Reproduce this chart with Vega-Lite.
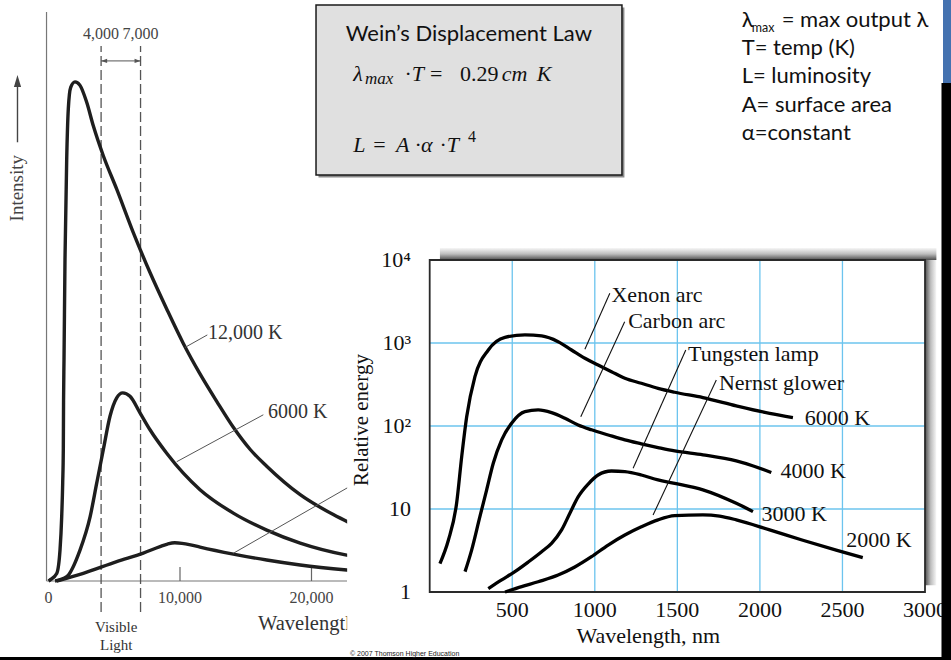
{
  "$schema": "https://vega.github.io/schema/vega-lite/v6.json",
  "width": 951,
  "height": 660,
  "autosize": {"type": "none"},
  "padding": 0,
  "background": "#ffffff",
  "config": {
    "view": {"stroke": null},
    "text": {"font": "Liberation Serif"}
  },
  "datasets": {
    "planck": [
      {"temp": "12,000 K", "wl": 0, "intensity": 0},
      {"temp": "12,000 K", "wl": 114, "intensity": 0.2},
      {"temp": "12,000 K", "wl": 624, "intensity": 1.5},
      {"temp": "12,000 K", "wl": 875, "intensity": 6.2},
      {"temp": "12,000 K", "wl": 1004, "intensity": 12.9},
      {"temp": "12,000 K", "wl": 1080, "intensity": 19.7},
      {"temp": "12,000 K", "wl": 1126, "intensity": 26.3},
      {"temp": "12,000 K", "wl": 1145, "intensity": 36},
      {"temp": "12,000 K", "wl": 1180, "intensity": 44.4},
      {"temp": "12,000 K", "wl": 1255, "intensity": 64.5},
      {"temp": "12,000 K", "wl": 1384, "intensity": 84.5},
      {"temp": "12,000 K", "wl": 1506, "intensity": 94.6},
      {"temp": "12,000 K", "wl": 1688, "intensity": 98.9},
      {"temp": "12,000 K", "wl": 2015, "intensity": 100},
      {"temp": "12,000 K", "wl": 2396, "intensity": 99.3},
      {"temp": "12,000 K", "wl": 2905, "intensity": 95.9},
      {"temp": "12,000 K", "wl": 3407, "intensity": 91.2},
      {"temp": "12,000 K", "wl": 4168, "intensity": 85.2},
      {"temp": "12,000 K", "wl": 5187, "intensity": 78.5},
      {"temp": "12,000 K", "wl": 6449, "intensity": 69.8},
      {"temp": "12,000 K", "wl": 7719, "intensity": 61.8},
      {"temp": "12,000 K", "wl": 8989, "intensity": 54.5},
      {"temp": "12,000 K", "wl": 10252, "intensity": 47.6},
      {"temp": "12,000 K", "wl": 11522, "intensity": 41.5},
      {"temp": "12,000 K", "wl": 12792, "intensity": 36},
      {"temp": "12,000 K", "wl": 14055, "intensity": 30.8},
      {"temp": "12,000 K", "wl": 15324, "intensity": 26.4},
      {"temp": "12,000 K", "wl": 16594, "intensity": 23},
      {"temp": "12,000 K", "wl": 19139, "intensity": 17.3},
      {"temp": "12,000 K", "wl": 21659, "intensity": 13.3},
      {"temp": "12,000 K", "wl": 22930, "intensity": 11.6},
      {"temp": "6000 K", "wl": 494, "intensity": 0},
      {"temp": "6000 K", "wl": 1384, "intensity": 0.86},
      {"temp": "6000 K", "wl": 2396, "intensity": 6.2},
      {"temp": "6000 K", "wl": 3167, "intensity": 12.9},
      {"temp": "6000 K", "wl": 3666, "intensity": 19.6},
      {"temp": "6000 K", "wl": 4168, "intensity": 26.3},
      {"temp": "6000 K", "wl": 4677, "intensity": 33},
      {"temp": "6000 K", "wl": 5187, "intensity": 36.7},
      {"temp": "6000 K", "wl": 5643, "intensity": 37.7},
      {"temp": "6000 K", "wl": 6198, "intensity": 37},
      {"temp": "6000 K", "wl": 6958, "intensity": 33.7},
      {"temp": "6000 K", "wl": 7719, "intensity": 30.3},
      {"temp": "6000 K", "wl": 8989, "intensity": 25.6},
      {"temp": "6000 K", "wl": 10252, "intensity": 21.6},
      {"temp": "6000 K", "wl": 11522, "intensity": 18.3},
      {"temp": "6000 K", "wl": 14055, "intensity": 13.6},
      {"temp": "6000 K", "wl": 16594, "intensity": 10.2},
      {"temp": "6000 K", "wl": 19139, "intensity": 7.6},
      {"temp": "6000 K", "wl": 22678, "intensity": 5.2},
      {"temp": "6000 K", "wl": 23100, "intensity": 5},
      {"temp": "3000 K", "wl": 624, "intensity": 0},
      {"temp": "3000 K", "wl": 2647, "intensity": 1.55},
      {"temp": "3000 K", "wl": 5187, "intensity": 3.9},
      {"temp": "3000 K", "wl": 7210, "intensity": 5.6},
      {"temp": "3000 K", "wl": 8480, "intensity": 6.9},
      {"temp": "3000 K", "wl": 9050, "intensity": 7.4},
      {"temp": "3000 K", "wl": 9600, "intensity": 7.65},
      {"temp": "3000 K", "wl": 10150, "intensity": 7.55},
      {"temp": "3000 K", "wl": 10800, "intensity": 7.25},
      {"temp": "3000 K", "wl": 11522, "intensity": 6.8},
      {"temp": "3000 K", "wl": 14055, "intensity": 5.4},
      {"temp": "3000 K", "wl": 16594, "intensity": 4.2},
      {"temp": "3000 K", "wl": 19139, "intensity": 3.2},
      {"temp": "3000 K", "wl": 22678, "intensity": 2.2},
      {"temp": "3000 K", "wl": 23100, "intensity": 2.1}
    ],
    "visible": [
      {"wl": 4000, "label": "4,000"},
      {"wl": 7000, "label": "7,000"}
    ],
    "wlTicks": [
      {"wl": 0, "label": "0"},
      {"wl": 10000, "label": "10,000"},
      {"wl": 20000, "label": "20,000"}
    ],
    "planckLeaders": [
      {"temp": "12,000 K", "wl1": 10381, "i1": 46.8, "wl2": 12077, "i2": 49.3},
      {"temp": "6000 K", "wl1": 9750, "i1": 23.9, "wl2": 16336, "i2": 33.3},
      {"temp": "3000 K", "wl1": 14054, "i1": 5.55, "wl2": 23080, "i2": 19.2}
    ],
    "planckLabels": [
      {"text": "12,000 K", "wl": 12130, "intensity": 48.5},
      {"text": "6000 K", "wl": 16693, "intensity": 32.7}
    ],
    "sources": [
      {"source": "Xenon arc", "nm": 62, "energy": 2.2},
      {"source": "Xenon arc", "nm": 113, "energy": 4.2},
      {"source": "Xenon arc", "nm": 163, "energy": 11.7},
      {"source": "Xenon arc", "nm": 194, "energy": 43},
      {"source": "Xenon arc", "nm": 224, "energy": 129},
      {"source": "Xenon arc", "nm": 274, "energy": 393},
      {"source": "Xenon arc", "nm": 355, "energy": 824},
      {"source": "Xenon arc", "nm": 456, "energy": 1170},
      {"source": "Xenon arc", "nm": 577, "energy": 1250},
      {"source": "Xenon arc", "nm": 678, "energy": 1215},
      {"source": "Xenon arc", "nm": 778, "energy": 1037},
      {"source": "Xenon arc", "nm": 859, "energy": 824},
      {"source": "Xenon arc", "nm": 940, "energy": 654},
      {"source": "Xenon arc", "nm": 1020, "energy": 543},
      {"source": "Xenon arc", "nm": 1101, "energy": 451},
      {"source": "Xenon arc", "nm": 1182, "energy": 376},
      {"source": "Xenon arc", "nm": 1282, "energy": 327},
      {"source": "Xenon arc", "nm": 1383, "energy": 284},
      {"source": "Xenon arc", "nm": 1484, "energy": 255},
      {"source": "Xenon arc", "nm": 1655, "energy": 220},
      {"source": "Xenon arc", "nm": 1857, "energy": 175},
      {"source": "Xenon arc", "nm": 2059, "energy": 142},
      {"source": "Xenon arc", "nm": 2200, "energy": 126},
      {"source": "Carbon arc", "nm": 214, "energy": 1.76},
      {"source": "Carbon arc", "nm": 254, "energy": 3.2},
      {"source": "Carbon arc", "nm": 304, "energy": 8.1},
      {"source": "Carbon arc", "nm": 345, "energy": 17},
      {"source": "Carbon arc", "nm": 385, "energy": 35.5},
      {"source": "Carbon arc", "nm": 436, "energy": 68},
      {"source": "Carbon arc", "nm": 496, "energy": 108},
      {"source": "Carbon arc", "nm": 577, "energy": 149},
      {"source": "Carbon arc", "nm": 657, "energy": 156},
      {"source": "Carbon arc", "nm": 738, "energy": 145},
      {"source": "Carbon arc", "nm": 819, "energy": 124},
      {"source": "Carbon arc", "nm": 899, "energy": 103},
      {"source": "Carbon arc", "nm": 980, "energy": 90},
      {"source": "Carbon arc", "nm": 1081, "energy": 78},
      {"source": "Carbon arc", "nm": 1182, "energy": 68},
      {"source": "Carbon arc", "nm": 1282, "energy": 61},
      {"source": "Carbon arc", "nm": 1383, "energy": 55},
      {"source": "Carbon arc", "nm": 1484, "energy": 50},
      {"source": "Carbon arc", "nm": 1655, "energy": 45},
      {"source": "Carbon arc", "nm": 1857, "energy": 38},
      {"source": "Carbon arc", "nm": 1960, "energy": 33},
      {"source": "Carbon arc", "nm": 2069, "energy": 27.5},
      {"source": "Tungsten lamp", "nm": 355, "energy": 1.1},
      {"source": "Tungsten lamp", "nm": 436, "energy": 1.4},
      {"source": "Tungsten lamp", "nm": 516, "energy": 1.76},
      {"source": "Tungsten lamp", "nm": 597, "energy": 2.3},
      {"source": "Tungsten lamp", "nm": 678, "energy": 3.06},
      {"source": "Tungsten lamp", "nm": 738, "energy": 3.86},
      {"source": "Tungsten lamp", "nm": 799, "energy": 5.6},
      {"source": "Tungsten lamp", "nm": 849, "energy": 8.9},
      {"source": "Tungsten lamp", "nm": 899, "energy": 14},
      {"source": "Tungsten lamp", "nm": 960, "energy": 20},
      {"source": "Tungsten lamp", "nm": 1020, "energy": 25.7},
      {"source": "Tungsten lamp", "nm": 1101, "energy": 28.7},
      {"source": "Tungsten lamp", "nm": 1182, "energy": 28.2},
      {"source": "Tungsten lamp", "nm": 1282, "energy": 25.7},
      {"source": "Tungsten lamp", "nm": 1383, "energy": 22.4},
      {"source": "Tungsten lamp", "nm": 1484, "energy": 20.4},
      {"source": "Tungsten lamp", "nm": 1655, "energy": 17},
      {"source": "Tungsten lamp", "nm": 1857, "energy": 11.7},
      {"source": "Tungsten lamp", "nm": 1958, "energy": 9.3},
      {"source": "Nernst glower", "nm": 456, "energy": 1.0},
      {"source": "Nernst glower", "nm": 557, "energy": 1.16},
      {"source": "Nernst glower", "nm": 657, "energy": 1.33},
      {"source": "Nernst glower", "nm": 778, "energy": 1.6},
      {"source": "Nernst glower", "nm": 879, "energy": 2.0},
      {"source": "Nernst glower", "nm": 980, "energy": 2.66},
      {"source": "Nernst glower", "nm": 1081, "energy": 3.68},
      {"source": "Nernst glower", "nm": 1182, "energy": 4.86},
      {"source": "Nernst glower", "nm": 1282, "energy": 6.1},
      {"source": "Nernst glower", "nm": 1383, "energy": 7.4},
      {"source": "Nernst glower", "nm": 1484, "energy": 8.3},
      {"source": "Nernst glower", "nm": 1655, "energy": 8.5},
      {"source": "Nernst glower", "nm": 1756, "energy": 8.2},
      {"source": "Nernst glower", "nm": 1857, "energy": 7.4},
      {"source": "Nernst glower", "nm": 2059, "energy": 5.6},
      {"source": "Nernst glower", "nm": 2260, "energy": 4.2},
      {"source": "Nernst glower", "nm": 2462, "energy": 3.2},
      {"source": "Nernst glower", "nm": 2623, "energy": 2.6}
    ],
    "sourceLeaders": [
      {"source": "Xenon arc", "nm1": 940, "e1": 839, "nm2": 1091, "e2": 3970},
      {"source": "Carbon arc", "nm1": 915, "e1": 129, "nm2": 1181, "e2": 1806},
      {"source": "Tungsten lamp", "nm1": 1232, "e1": 30.9, "nm2": 1551, "e2": 824},
      {"source": "Nernst glower", "nm1": 1353, "e1": 8.47, "nm2": 1736, "e2": 358}
    ],
    "sourceLabels": [
      {"text": "Xenon arc", "nm": 1101, "energy": 3146},
      {"text": "Carbon arc", "nm": 1202, "energy": 1503},
      {"text": "Tungsten lamp", "nm": 1565, "energy": 607},
      {"text": "Nernst glower", "nm": 1752, "energy": 271},
      {"text": "6000 K", "nm": 2271, "energy": 103},
      {"text": "4000 K", "nm": 2125, "energy": 23.4},
      {"text": "3000 K", "nm": 2009, "energy": 7.2},
      {"text": "2000 K", "nm": 2523, "energy": 3.5}
    ],
    "nmTicks": [
      {"nm": 500, "label": "500"},
      {"nm": 1000, "label": "1000"},
      {"nm": 1500, "label": "1500"},
      {"nm": 2000, "label": "2000"},
      {"nm": 2500, "label": "2500"},
      {"nm": 3000, "label": "3000"}
    ],
    "energyTicks": [
      {"energy": 1, "label": "1"},
      {"energy": 10, "label": "10"},
      {"energy": 100, "label": "10²"},
      {"energy": 1000, "label": "10³"},
      {"energy": 10000, "label": "10⁴"}
    ],
    "gridNm": [{"nm": 500}, {"nm": 1000}, {"nm": 1500}, {"nm": 2000}, {"nm": 2500}],
    "gridEnergy": [{"energy": 10}, {"energy": 100}, {"energy": 1000}],
    "slideText": [
      {"part": "heading", "text": "Wein’s Displacement Law", "x": 49.3, "y": 6.17},
      {"part": "variable", "text": "λ", "x": 37.15, "y": 12.27},
      {"part": "subscript", "text": "max", "x": 38.38, "y": 12.73},
      {"part": "operator", "text": "·", "x": 42.53, "y": 12.27},
      {"part": "variable", "text": "T", "x": 43.29, "y": 12.27},
      {"part": "operator", "text": "=", "x": 45.22, "y": 12.27},
      {"part": "constant", "text": "0.29", "x": 48.37, "y": 12.27},
      {"part": "variable", "text": "cm", "x": 52.75, "y": 12.27},
      {"part": "variable", "text": "K", "x": 56.43, "y": 12.27},
      {"part": "variable", "text": "L", "x": 37.15, "y": 22.98},
      {"part": "operator", "text": "=", "x": 39.26, "y": 22.98},
      {"part": "variable", "text": "A", "x": 41.64, "y": 22.98},
      {"part": "operator", "text": "·", "x": 43.59, "y": 22.98},
      {"part": "variable", "text": "α", "x": 44.27, "y": 22.98},
      {"part": "operator", "text": "·", "x": 46.21, "y": 22.98},
      {"part": "variable", "text": "T", "x": 46.97, "y": 22.98},
      {"part": "exponent", "text": "4", "x": 49.2, "y": 21.47},
      {"part": "note", "text": "λ", "x": 77.99, "y": 4.05},
      {"part": "note-subscript", "text": "max", "x": 79.04, "y": 4.9},
      {"part": "note", "text": "= max output λ", "x": 82.2, "y": 4.05},
      {"part": "note", "text": "T= temp (K)", "x": 77.99, "y": 8.4},
      {"part": "note", "text": "L= luminosity", "x": 77.99, "y": 12.63},
      {"part": "note", "text": "A= surface area", "x": 77.99, "y": 16.92},
      {"part": "note", "text": "α=constant", "x": 77.99, "y": 21.21},
      {"part": "credit", "text": "© 2007 Thomson Higher Education", "x": 36.8, "y": 99.39}
    ]
  },
  "layer": [
    {
      "layer": [
        {
          "data": {"values": [{}]},
          "mark": {"type": "rule", "color": "#777777", "strokeWidth": 1.2},
          "encoding": {
            "x": {"datum": -150, "type": "quantitative", "scale": {"domain": [0, 22700], "range": [48.5, 347], "zero": false, "nice": false}, "axis": null},
            "y": {"datum": 0, "type": "quantitative", "scale": {"domain": [0, 114], "range": [581, 12], "zero": false, "nice": false}, "axis": null},
            "y2": {"datum": 114}
          }
        },
        {
          "data": {"values": [{}]},
          "mark": {"type": "rule", "color": "#777777", "strokeWidth": 1.2},
          "encoding": {
            "x": {"datum": -150, "type": "quantitative", "scale": {"domain": [0, 22700], "range": [48.5, 347], "zero": false, "nice": false}, "axis": null},
            "x2": {"datum": 22700},
            "y": {"datum": 0, "type": "quantitative", "scale": {"domain": [0, 114], "range": [581, 12], "zero": false, "nice": false}, "axis": null}
          }
        },
        {
          "data": {"name": "visible"},
          "mark": {"type": "rule", "color": "#555555", "strokeWidth": 1.3, "strokeDash": [10, 4]},
          "encoding": {
            "x": {"field": "wl", "type": "quantitative", "scale": {"domain": [0, 22700], "range": [48.5, 347], "zero": false, "nice": false}, "axis": null},
            "y": {"datum": -6.2, "type": "quantitative", "scale": {"domain": [0, 114], "range": [581, 12], "zero": false, "nice": false}, "axis": null},
            "y2": {"datum": 107.2}
          }
        },
        {
          "data": {"name": "visible"},
          "mark": {"type": "text", "fontSize": 16, "color": "#444444", "align": "center", "baseline": "alphabetic"},
          "encoding": {
            "x": {"field": "wl", "type": "quantitative", "scale": {"domain": [0, 22700], "range": [48.5, 347], "zero": false, "nice": false}, "axis": null},
            "y": {"datum": 108.5, "type": "quantitative", "scale": {"domain": [0, 114], "range": [581, 12], "zero": false, "nice": false}, "axis": null},
            "text": {"field": "label"}
          }
        },
        {
          "data": {"values": [{}]},
          "mark": {"type": "rule", "color": "#555555", "strokeWidth": 1},
          "encoding": {
            "x": {"datum": 4000, "type": "quantitative", "scale": {"domain": [0, 22700], "range": [48.5, 347], "zero": false, "nice": false}, "axis": null},
            "x2": {"datum": 7000},
            "y": {"datum": 104.2, "type": "quantitative", "scale": {"domain": [0, 114], "range": [581, 12], "zero": false, "nice": false}, "axis": null}
          }
        },
        {
          "data": {"name": "visible"},
          "mark": {"type": "point", "filled": true, "color": "#555555", "opacity": 1, "size": 144},
          "encoding": {
            "x": {"field": "wl", "type": "quantitative", "scale": {"domain": [0, 22700], "range": [48.5, 347], "zero": false, "nice": false}, "axis": null},
            "y": {"datum": 104.2, "type": "quantitative", "scale": {"domain": [0, 114], "range": [581, 12], "zero": false, "nice": false}, "axis": null},
            "shape": {"condition": {"test": "datum.wl < 5000", "value": "M0,0L1,-0.35L1,0.35Z"}, "value": "M0,0L-1,-0.35L-1,0.35Z"}
          }
        },
        {
          "data": {"name": "wlTicks"},
          "transform": [{"filter": "datum.wl > 0"}],
          "mark": {"type": "rule", "color": "#666666", "strokeWidth": 1.2},
          "encoding": {
            "x": {"field": "wl", "type": "quantitative", "scale": {"domain": [0, 22700], "range": [48.5, 347], "zero": false, "nice": false}, "axis": null},
            "y": {"datum": 0, "type": "quantitative", "scale": {"domain": [0, 114], "range": [581, 12], "zero": false, "nice": false}, "axis": null},
            "y2": {"datum": 2.8}
          }
        },
        {
          "data": {"name": "wlTicks"},
          "mark": {"type": "text", "fontSize": 16, "color": "#444444", "align": "center", "baseline": "alphabetic"},
          "encoding": {
            "x": {"field": "wl", "type": "quantitative", "scale": {"domain": [0, 22700], "range": [48.5, 347], "zero": false, "nice": false}, "axis": null},
            "y": {"datum": -4.47, "type": "quantitative", "scale": {"domain": [0, 114], "range": [581, 12], "zero": false, "nice": false}, "axis": null},
            "text": {"field": "label"}
          }
        },
        {
          "data": {"name": "planck"},
          "mark": {"type": "line", "interpolate": "monotone", "color": "#1e1e1e", "strokeWidth": 3.4},
          "encoding": {
            "x": {"field": "wl", "type": "quantitative", "scale": {"domain": [0, 22700], "range": [48.5, 347], "zero": false, "nice": false}, "axis": null},
            "y": {"field": "intensity", "type": "quantitative", "scale": {"domain": [0, 114], "range": [581, 12], "zero": false, "nice": false}, "axis": null},
            "detail": {"field": "temp", "type": "nominal"}
          }
        },
        {
          "data": {"name": "planckLeaders"},
          "mark": {"type": "rule", "color": "#555555", "strokeWidth": 1},
          "encoding": {
            "x": {"field": "wl1", "type": "quantitative", "scale": {"domain": [0, 22700], "range": [48.5, 347], "zero": false, "nice": false}, "axis": null},
            "x2": {"field": "wl2"},
            "y": {"field": "i1", "type": "quantitative", "scale": {"domain": [0, 114], "range": [581, 12], "zero": false, "nice": false}, "axis": null},
            "y2": {"field": "i2"}
          }
        },
        {
          "data": {"name": "planckLabels"},
          "mark": {"type": "text", "fontSize": 20, "color": "#333333", "align": "left", "baseline": "alphabetic"},
          "encoding": {
            "x": {"field": "wl", "type": "quantitative", "scale": {"domain": [0, 22700], "range": [48.5, 347], "zero": false, "nice": false}, "axis": null},
            "y": {"field": "intensity", "type": "quantitative", "scale": {"domain": [0, 114], "range": [581, 12], "zero": false, "nice": false}, "axis": null},
            "text": {"field": "text"}
          }
        },
        {
          "data": {"values": [{"text": "Visible\nLight", "wl": 5150, "intensity": -10.2}]},
          "mark": {"type": "text", "fontSize": 15, "color": "#333333", "align": "center", "baseline": "alphabetic", "lineBreak": "\n", "lineHeight": 18.3},
          "encoding": {
            "x": {"field": "wl", "type": "quantitative", "scale": {"domain": [0, 22700], "range": [48.5, 347], "zero": false, "nice": false}, "axis": null},
            "y": {"field": "intensity", "type": "quantitative", "scale": {"domain": [0, 114], "range": [581, 12], "zero": false, "nice": false}, "axis": null},
            "text": {"field": "text"}
          }
        },
        {
          "data": {"values": [{"text": "Wavelength", "wl": 15933, "intensity": -9.8}]},
          "mark": {"type": "text", "fontSize": 20.5, "color": "#333333", "align": "left", "baseline": "alphabetic"},
          "encoding": {
            "x": {"field": "wl", "type": "quantitative", "scale": {"domain": [0, 22700], "range": [48.5, 347], "zero": false, "nice": false}, "axis": null},
            "y": {"field": "intensity", "type": "quantitative", "scale": {"domain": [0, 114], "range": [581, 12], "zero": false, "nice": false}, "axis": null},
            "text": {"field": "text"}
          }
        },
        {
          "data": {"values": [{"text": "Intensity", "wl": -1916, "intensity": 78.7}]},
          "mark": {"type": "text", "fontSize": 19, "color": "#444444", "align": "center", "baseline": "alphabetic", "angle": 270},
          "encoding": {
            "x": {"field": "wl", "type": "quantitative", "scale": {"domain": [0, 22700], "range": [48.5, 347], "zero": false, "nice": false}, "axis": null},
            "y": {"field": "intensity", "type": "quantitative", "scale": {"domain": [0, 114], "range": [581, 12], "zero": false, "nice": false}, "axis": null},
            "text": {"field": "text"}
          }
        },
        {
          "data": {"values": [{}]},
          "mark": {"type": "rule", "color": "#444444", "strokeWidth": 1.4},
          "encoding": {
            "x": {"datum": -2358, "type": "quantitative", "scale": {"domain": [0, 22700], "range": [48.5, 347], "zero": false, "nice": false}, "axis": null},
            "y": {"datum": 87.9, "type": "quantitative", "scale": {"domain": [0, 114], "range": [581, 12], "zero": false, "nice": false}, "axis": null},
            "y2": {"datum": 99.4}
          }
        },
        {
          "data": {"values": [{}]},
          "mark": {"type": "point", "filled": true, "color": "#444444", "opacity": 1, "size": 576, "shape": "M0,0L-0.3,1L0.3,1Z"},
          "encoding": {
            "x": {"datum": -2358, "type": "quantitative", "scale": {"domain": [0, 22700], "range": [48.5, 347], "zero": false, "nice": false}, "axis": null},
            "y": {"datum": 101.4, "type": "quantitative", "scale": {"domain": [0, 114], "range": [581, 12], "zero": false, "nice": false}, "axis": null}
          }
        }
      ]
    },
    {
      "layer": [
        {
          "data": {"values": [{}]},
          "mark": {"type": "rect", "color": "#ffffff"},
          "encoding": {
            "x": {"datum": -500, "type": "quantitative", "scale": {"domain": [0, 3000], "range": [429.7, 925], "zero": false, "nice": false}, "axis": null},
            "x2": {"datum": 3094},
            "y": {"datum": 0.17, "type": "quantitative", "scale": {"type": "log", "domain": [1, 10000], "range": [592, 260], "nice": false}, "axis": null},
            "y2": {"datum": 22970}
          }
        },
        {
          "data": {"values": [{}]},
          "mark": {"type": "rect", "fill": {"gradient": "linear", "x1": 0, "y1": 0, "x2": 0, "y2": 1, "stops": [{"offset": 0, "color": "#f7f7f7"}, {"offset": 0.5, "color": "#bdbdbd"}, {"offset": 1, "color": "#4d4d4d"}]}},
          "encoding": {
            "x": {"datum": 62, "type": "quantitative", "scale": {"domain": [0, 3000], "range": [429.7, 925], "zero": false, "nice": false}, "axis": null},
            "x2": {"datum": 3069},
            "y": {"datum": 10000, "type": "quantitative", "scale": {"type": "log", "domain": [1, 10000], "range": [592, 260], "nice": false}, "axis": null},
            "y2": {"datum": 13960}
          }
        },
        {
          "data": {"values": [{}]},
          "mark": {"type": "rect", "fill": {"gradient": "linear", "x1": 0, "y1": 0, "x2": 1, "y2": 0, "stops": [{"offset": 0, "color": "#4d4d4d"}, {"offset": 0.5, "color": "#bdbdbd"}, {"offset": 1, "color": "#f7f7f7"}]}},
          "encoding": {
            "x": {"datum": 3000, "type": "quantitative", "scale": {"domain": [0, 3000], "range": [429.7, 925], "zero": false, "nice": false}, "axis": null},
            "x2": {"datum": 3069},
            "y": {"datum": 1.21, "type": "quantitative", "scale": {"type": "log", "domain": [1, 10000], "range": [592, 260], "nice": false}, "axis": null},
            "y2": {"datum": 10000}
          }
        },
        {
          "data": {"name": "gridNm"},
          "mark": {"type": "rule", "color": "#6cc4ee", "strokeWidth": 1.3},
          "encoding": {
            "x": {"field": "nm", "type": "quantitative", "scale": {"domain": [0, 3000], "range": [429.7, 925], "zero": false, "nice": false}, "axis": null},
            "y": {"datum": 1, "type": "quantitative", "scale": {"type": "log", "domain": [1, 10000], "range": [592, 260], "nice": false}, "axis": null},
            "y2": {"datum": 10000}
          }
        },
        {
          "data": {"name": "gridEnergy"},
          "mark": {"type": "rule", "color": "#6cc4ee", "strokeWidth": 1.3},
          "encoding": {
            "x": {"datum": 0, "type": "quantitative", "scale": {"domain": [0, 3000], "range": [429.7, 925], "zero": false, "nice": false}, "axis": null},
            "x2": {"datum": 3000},
            "y": {"field": "energy", "type": "quantitative", "scale": {"type": "log", "domain": [1, 10000], "range": [592, 260], "nice": false}, "axis": null}
          }
        },
        {
          "data": {"values": [{}]},
          "mark": {"type": "rect", "filled": false, "stroke": "#2a2a2a", "strokeWidth": 1.8},
          "encoding": {
            "x": {"datum": 0, "type": "quantitative", "scale": {"domain": [0, 3000], "range": [429.7, 925], "zero": false, "nice": false}, "axis": null},
            "x2": {"datum": 3000},
            "y": {"datum": 1, "type": "quantitative", "scale": {"type": "log", "domain": [1, 10000], "range": [592, 260], "nice": false}, "axis": null},
            "y2": {"datum": 10000}
          }
        },
        {
          "data": {"name": "nmTicks"},
          "mark": {"type": "text", "fontSize": 22, "color": "#111111", "align": "center", "baseline": "alphabetic"},
          "encoding": {
            "x": {"field": "nm", "type": "quantitative", "scale": {"domain": [0, 3000], "range": [429.7, 925], "zero": false, "nice": false}, "axis": null},
            "y": {"datum": 0.504, "type": "quantitative", "scale": {"type": "log", "domain": [1, 10000], "range": [592, 260], "nice": false}, "axis": null},
            "text": {"field": "label"}
          }
        },
        {
          "data": {"name": "energyTicks"},
          "mark": {"type": "text", "fontSize": 22, "color": "#111111", "align": "right", "baseline": "middle"},
          "encoding": {
            "x": {"datum": -113, "type": "quantitative", "scale": {"domain": [0, 3000], "range": [429.7, 925], "zero": false, "nice": false}, "axis": null},
            "y": {"field": "energy", "type": "quantitative", "scale": {"type": "log", "domain": [1, 10000], "range": [592, 260], "nice": false}, "axis": null},
            "text": {"field": "label"}
          }
        },
        {
          "data": {"values": [{"text": "Wavelength, nm", "nm": 1324, "energy": 0.241}]},
          "mark": {"type": "text", "fontSize": 22, "color": "#111111", "align": "center", "baseline": "alphabetic"},
          "encoding": {
            "x": {"field": "nm", "type": "quantitative", "scale": {"domain": [0, 3000], "range": [429.7, 925], "zero": false, "nice": false}, "axis": null},
            "y": {"field": "energy", "type": "quantitative", "scale": {"type": "log", "domain": [1, 10000], "range": [592, 260], "nice": false}, "axis": null},
            "text": {"field": "text"}
          }
        },
        {
          "data": {"values": [{"text": "Relative energy", "nm": -373, "energy": 118}]},
          "mark": {"type": "text", "fontSize": 21, "color": "#111111", "align": "center", "baseline": "alphabetic", "angle": 270},
          "encoding": {
            "x": {"field": "nm", "type": "quantitative", "scale": {"domain": [0, 3000], "range": [429.7, 925], "zero": false, "nice": false}, "axis": null},
            "y": {"field": "energy", "type": "quantitative", "scale": {"type": "log", "domain": [1, 10000], "range": [592, 260], "nice": false}, "axis": null},
            "text": {"field": "text"}
          }
        },
        {
          "data": {"name": "sources"},
          "mark": {"type": "line", "interpolate": "monotone", "color": "#000000", "strokeWidth": 3.3},
          "encoding": {
            "x": {"field": "nm", "type": "quantitative", "scale": {"domain": [0, 3000], "range": [429.7, 925], "zero": false, "nice": false}, "axis": null},
            "y": {"field": "energy", "type": "quantitative", "scale": {"type": "log", "domain": [1, 10000], "range": [592, 260], "nice": false}, "axis": null},
            "detail": {"field": "source", "type": "nominal"}
          }
        },
        {
          "data": {"name": "sourceLeaders"},
          "mark": {"type": "rule", "color": "#111111", "strokeWidth": 1.1},
          "encoding": {
            "x": {"field": "nm1", "type": "quantitative", "scale": {"domain": [0, 3000], "range": [429.7, 925], "zero": false, "nice": false}, "axis": null},
            "x2": {"field": "nm2"},
            "y": {"field": "e1", "type": "quantitative", "scale": {"type": "log", "domain": [1, 10000], "range": [592, 260], "nice": false}, "axis": null},
            "y2": {"field": "e2"}
          }
        },
        {
          "data": {"name": "sourceLabels"},
          "mark": {"type": "text", "fontSize": 22, "color": "#111111", "align": "left", "baseline": "alphabetic"},
          "encoding": {
            "x": {"field": "nm", "type": "quantitative", "scale": {"domain": [0, 3000], "range": [429.7, 925], "zero": false, "nice": false}, "axis": null},
            "y": {"field": "energy", "type": "quantitative", "scale": {"type": "log", "domain": [1, 10000], "range": [592, 260], "nice": false}, "axis": null},
            "text": {"field": "text"}
          }
        }
      ]
    },
    {
      "layer": [
        {
          "data": {"values": [{}]},
          "mark": {"type": "rect", "color": "#8a8a8a"},
          "encoding": {
            "x": {"datum": 33.49, "type": "quantitative", "scale": {"domain": [0, 100], "range": [0, 951], "zero": false, "nice": false}, "axis": null},
            "x2": {"datum": 65.66},
            "y": {"datum": 1.14, "type": "quantitative", "scale": {"domain": [0, 100], "range": [0, 660], "zero": false, "nice": false}, "axis": null},
            "y2": {"datum": 26.9}
          }
        },
        {
          "data": {"values": [{}]},
          "mark": {"type": "rect", "fill": "#e0e0e0", "stroke": "#1a1a1a", "strokeWidth": 1.5},
          "encoding": {
            "x": {"datum": 33.23, "type": "quantitative", "scale": {"domain": [0, 100], "range": [0, 951], "zero": false, "nice": false}, "axis": null},
            "x2": {"datum": 65.4},
            "y": {"datum": 0.76, "type": "quantitative", "scale": {"domain": [0, 100], "range": [0, 660], "zero": false, "nice": false}, "axis": null},
            "y2": {"datum": 26.52}
          }
        },
        {
          "data": {"name": "slideText"},
          "transform": [{"filter": "datum.part === 'heading'"}],
          "mark": {"type": "text", "font": "Lato", "fontSize": 22, "color": "#111111", "align": "center", "baseline": "alphabetic"},
          "encoding": {
            "x": {"field": "x", "type": "quantitative", "scale": {"domain": [0, 100], "range": [0, 951], "zero": false, "nice": false}, "axis": null},
            "y": {"field": "y", "type": "quantitative", "scale": {"domain": [0, 100], "range": [0, 660], "zero": false, "nice": false}, "axis": null},
            "text": {"field": "text"}
          }
        },
        {
          "data": {"name": "slideText"},
          "transform": [{"filter": "datum.part === 'variable'"}],
          "mark": {"type": "text", "font": "Liberation Serif", "fontStyle": "italic", "fontSize": 22, "color": "#111111", "align": "left", "baseline": "alphabetic"},
          "encoding": {
            "x": {"field": "x", "type": "quantitative", "scale": {"domain": [0, 100], "range": [0, 951], "zero": false, "nice": false}, "axis": null},
            "y": {"field": "y", "type": "quantitative", "scale": {"domain": [0, 100], "range": [0, 660], "zero": false, "nice": false}, "axis": null},
            "text": {"field": "text"}
          }
        },
        {
          "data": {"name": "slideText"},
          "transform": [{"filter": "datum.part === 'operator' || datum.part === 'constant'"}],
          "mark": {"type": "text", "font": "Liberation Serif", "fontSize": 22, "color": "#111111", "align": "left", "baseline": "alphabetic"},
          "encoding": {
            "x": {"field": "x", "type": "quantitative", "scale": {"domain": [0, 100], "range": [0, 951], "zero": false, "nice": false}, "axis": null},
            "y": {"field": "y", "type": "quantitative", "scale": {"domain": [0, 100], "range": [0, 660], "zero": false, "nice": false}, "axis": null},
            "text": {"field": "text"}
          }
        },
        {
          "data": {"name": "slideText"},
          "transform": [{"filter": "datum.part === 'subscript'"}],
          "mark": {"type": "text", "font": "Liberation Serif", "fontStyle": "italic", "fontSize": 17, "color": "#111111", "align": "left", "baseline": "alphabetic"},
          "encoding": {
            "x": {"field": "x", "type": "quantitative", "scale": {"domain": [0, 100], "range": [0, 951], "zero": false, "nice": false}, "axis": null},
            "y": {"field": "y", "type": "quantitative", "scale": {"domain": [0, 100], "range": [0, 660], "zero": false, "nice": false}, "axis": null},
            "text": {"field": "text"}
          }
        },
        {
          "data": {"name": "slideText"},
          "transform": [{"filter": "datum.part === 'exponent'"}],
          "mark": {"type": "text", "font": "Liberation Serif", "fontSize": 16, "color": "#111111", "align": "left", "baseline": "alphabetic"},
          "encoding": {
            "x": {"field": "x", "type": "quantitative", "scale": {"domain": [0, 100], "range": [0, 951], "zero": false, "nice": false}, "axis": null},
            "y": {"field": "y", "type": "quantitative", "scale": {"domain": [0, 100], "range": [0, 660], "zero": false, "nice": false}, "axis": null},
            "text": {"field": "text"}
          }
        },
        {
          "data": {"name": "slideText"},
          "transform": [{"filter": "datum.part === 'note'"}],
          "mark": {"type": "text", "font": "Lato", "fontSize": 22, "color": "#111111", "align": "left", "baseline": "alphabetic"},
          "encoding": {
            "x": {"field": "x", "type": "quantitative", "scale": {"domain": [0, 100], "range": [0, 951], "zero": false, "nice": false}, "axis": null},
            "y": {"field": "y", "type": "quantitative", "scale": {"domain": [0, 100], "range": [0, 660], "zero": false, "nice": false}, "axis": null},
            "text": {"field": "text"}
          }
        },
        {
          "data": {"name": "slideText"},
          "transform": [{"filter": "datum.part === 'note-subscript'"}],
          "mark": {"type": "text", "font": "Lato", "fontSize": 12.5, "color": "#111111", "align": "left", "baseline": "alphabetic"},
          "encoding": {
            "x": {"field": "x", "type": "quantitative", "scale": {"domain": [0, 100], "range": [0, 951], "zero": false, "nice": false}, "axis": null},
            "y": {"field": "y", "type": "quantitative", "scale": {"domain": [0, 100], "range": [0, 660], "zero": false, "nice": false}, "axis": null},
            "text": {"field": "text"}
          }
        },
        {
          "data": {"values": [{}]},
          "mark": {"type": "rect", "color": "#4472b0"},
          "encoding": {
            "x": {"datum": 99.16, "type": "quantitative", "scale": {"domain": [0, 100], "range": [0, 951], "zero": false, "nice": false}, "axis": null},
            "x2": {"datum": 100},
            "y": {"datum": 0, "type": "quantitative", "scale": {"domain": [0, 100], "range": [0, 660], "zero": false, "nice": false}, "axis": null},
            "y2": {"datum": 12.58}
          }
        },
        {
          "data": {"values": [{}]},
          "mark": {"type": "rect", "color": "#000000"},
          "encoding": {
            "x": {"datum": 99.0, "type": "quantitative", "scale": {"domain": [0, 100], "range": [0, 951], "zero": false, "nice": false}, "axis": null},
            "x2": {"datum": 100},
            "y": {"datum": 12.58, "type": "quantitative", "scale": {"domain": [0, 100], "range": [0, 660], "zero": false, "nice": false}, "axis": null},
            "y2": {"datum": 100}
          }
        },
        {
          "data": {"values": [{}]},
          "mark": {"type": "rect", "color": "#000000"},
          "encoding": {
            "x": {"datum": 0, "type": "quantitative", "scale": {"domain": [0, 100], "range": [0, 951], "zero": false, "nice": false}, "axis": null},
            "x2": {"datum": 100},
            "y": {"datum": 99.55, "type": "quantitative", "scale": {"domain": [0, 100], "range": [0, 660], "zero": false, "nice": false}, "axis": null},
            "y2": {"datum": 100}
          }
        },
        {
          "data": {"name": "slideText"},
          "transform": [{"filter": "datum.part === 'credit'"}],
          "mark": {"type": "text", "font": "Liberation Sans", "fontSize": 7, "color": "#222222", "align": "left", "baseline": "alphabetic"},
          "encoding": {
            "x": {"field": "x", "type": "quantitative", "scale": {"domain": [0, 100], "range": [0, 951], "zero": false, "nice": false}, "axis": null},
            "y": {"field": "y", "type": "quantitative", "scale": {"domain": [0, 100], "range": [0, 660], "zero": false, "nice": false}, "axis": null},
            "text": {"field": "text"}
          }
        }
      ]
    }
  ],
  "resolve": {
    "scale": {"x": "independent", "y": "independent"}
  }
}
